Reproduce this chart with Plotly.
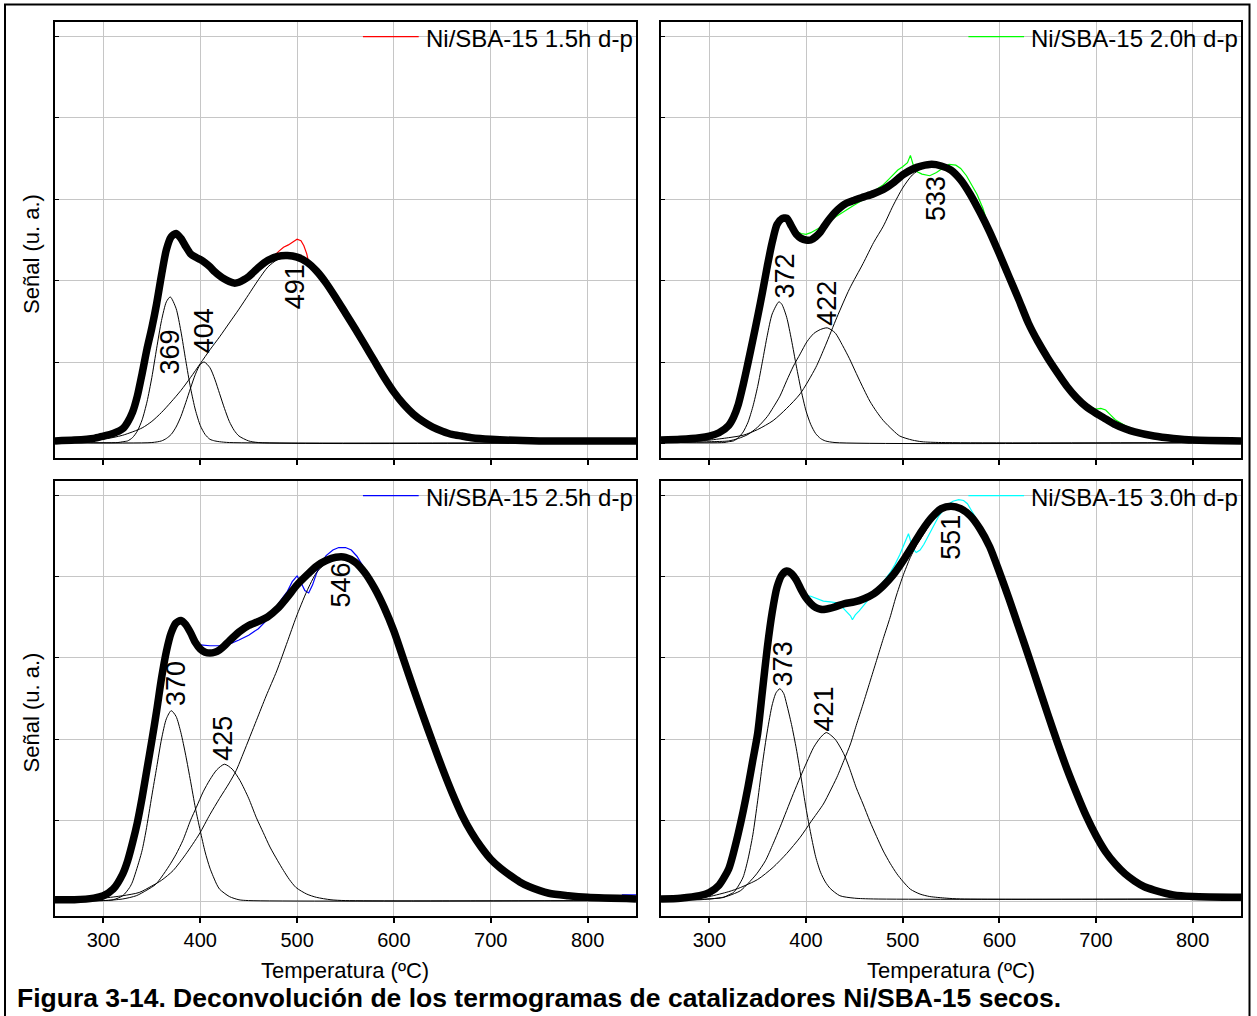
import plotly.graph_objects as go

# ---------------------------------------------------------------------------
# TPR deconvolution of dried Ni/SBA-15 catalysts: temperature (ºC) vs signal
# Each series is a list of (temperature, signal) pairs.
# ---------------------------------------------------------------------------

SAMPLE_NAMES = ["Ni/SBA-15 1.5h d-p", "Ni/SBA-15 2.0h d-p",
                "Ni/SBA-15 2.5h d-p", "Ni/SBA-15 3.0h d-p"]

# peak maxima of the fitted components (ºC)
PEAKS_15 = [369, 404, 491]
PEAKS_20 = [372, 422, 533]
PEAKS_25 = [370, 425, 546]
PEAKS_30 = [373, 421, 551]

X_TICKS = [300, 400, 500, 600, 700, 800]

# ---------------- 1.5 h ----------------
DATA_15 = [(250, 0.03), (270, 0.04), (290, 0.06), (300, 0.09), (310, 0.12), (320, 0.18),
           (325, 0.26), (330, 0.38), (335, 0.58), (340, 0.86), (345, 1.16), (350, 1.42),
           (355, 1.72), (360, 2.07), (365, 2.38), (370, 2.54), (375, 2.58), (380, 2.52),
           (385, 2.42), (390, 2.33), (395, 2.29), (400, 2.26), (405, 2.22), (410, 2.17),
           (415, 2.11), (420, 2.06), (425, 2.02), (430, 1.99), (435, 1.97), (440, 1.98),
           (445, 2.01), (450, 2.05), (460, 2.16), (470, 2.25), (476, 2.30), (481, 2.36),
           (486, 2.41), (491, 2.44), (496, 2.48), (500, 2.51), (504, 2.49), (507, 2.43),
           (510, 2.33), (512, 2.22), (516, 2.16), (520, 2.09), (525, 2.01), (530, 1.93),
           (535, 1.82), (540, 1.72), (545, 1.63), (550, 1.55), (555, 1.47), (560, 1.38),
           (570, 1.19), (580, 0.99), (590, 0.80), (600, 0.63), (610, 0.48), (620, 0.36),
           (630, 0.27), (640, 0.20), (650, 0.15), (660, 0.11), (670, 0.09), (680, 0.07),
           (700, 0.05), (750, 0.03), (800, 0.03), (850, 0.03)]
FIT_15 = [(250, 0.03), (270, 0.04), (290, 0.06), (300, 0.09), (310, 0.12), (320, 0.18),
          (325, 0.26), (330, 0.38), (335, 0.58), (340, 0.86), (345, 1.16), (350, 1.42),
          (355, 1.72), (360, 2.07), (365, 2.38), (370, 2.54), (375, 2.58), (380, 2.52),
          (385, 2.42), (390, 2.33), (395, 2.29), (400, 2.26), (405, 2.22), (410, 2.17),
          (415, 2.11), (420, 2.06), (425, 2.02), (430, 1.99), (435, 1.97), (440, 1.98),
          (445, 2.01), (450, 2.05), (460, 2.16), (470, 2.25), (480, 2.30), (490, 2.31),
          (500, 2.29), (510, 2.23), (520, 2.12), (530, 1.97), (540, 1.79), (550, 1.60),
          (560, 1.41), (570, 1.21), (580, 1.01), (590, 0.81), (600, 0.63), (610, 0.48),
          (620, 0.36), (630, 0.27), (640, 0.20), (650, 0.15), (660, 0.11), (670, 0.09),
          (680, 0.07), (700, 0.05), (750, 0.03), (800, 0.03), (850, 0.03)]
PEAK_15_A = [(250, 0.01), (315, 0.01), (320, 0.02), (325, 0.03), (330, 0.07), (335, 0.15),
             (340, 0.29), (345, 0.51), (350, 0.81), (355, 1.17), (360, 1.51), (365, 1.74),
             (369, 1.80), (375, 1.66), (380, 1.38), (385, 1.02), (390, 0.68), (395, 0.41),
             (400, 0.22), (405, 0.11), (410, 0.05), (415, 0.03), (420, 0.02), (430, 0.01),
             (850, 0.01)]
PEAK_15_B = [(250, 0.01), (350, 0.01), (360, 0.03), (365, 0.06), (370, 0.11), (375, 0.20),
             (380, 0.33), (385, 0.50), (390, 0.68), (395, 0.85), (400, 0.97), (404, 1.00),
             (410, 0.93), (415, 0.79), (420, 0.61), (425, 0.43), (430, 0.27), (435, 0.16),
             (440, 0.09), (450, 0.03), (460, 0.01), (850, 0.01)]
PEAK_15_C = [(250, 0.01), (280, 0.03), (300, 0.05), (320, 0.10), (340, 0.19), (350, 0.27),
             (360, 0.38), (370, 0.51), (380, 0.65), (390, 0.81), (400, 0.98), (410, 1.15),
             (420, 1.31), (430, 1.48), (440, 1.65), (450, 1.83), (460, 2.01), (470, 2.17),
             (480, 2.26), (491, 2.29), (500, 2.27), (510, 2.21), (520, 2.10), (530, 1.95),
             (540, 1.77), (550, 1.58), (560, 1.39), (570, 1.19), (580, 0.99), (590, 0.79),
             (600, 0.61), (610, 0.46), (620, 0.34), (630, 0.25), (640, 0.18), (650, 0.13),
             (660, 0.09), (670, 0.07), (680, 0.05), (700, 0.03), (750, 0.02), (850, 0.01)]

# ---------------- 2.0 h ----------------
DATA_20 = [(250, 0.04), (270, 0.05), (290, 0.07), (300, 0.09), (310, 0.13), (320, 0.22),
           (325, 0.32), (330, 0.48), (335, 0.72), (340, 0.99), (345, 1.27), (350, 1.56),
           (355, 1.86), (360, 2.18), (365, 2.47), (370, 2.69), (375, 2.76), (380, 2.74),
           (385, 2.67), (390, 2.61), (395, 2.58), (400, 2.57), (405, 2.59), (410, 2.62),
           (415, 2.65), (420, 2.69), (430, 2.78), (440, 2.86), (450, 2.93), (460, 3.00),
           (465, 3.04), (470, 3.09), (475, 3.14), (480, 3.18), (485, 3.24), (490, 3.30),
           (495, 3.36), (500, 3.40), (505, 3.45), (508, 3.54), (511, 3.42), (515, 3.34),
           (520, 3.31), (528, 3.29), (535, 3.33), (541, 3.38), (548, 3.43), (555, 3.42),
           (560, 3.38), (566, 3.29), (572, 3.16), (577, 3.06), (583, 2.89), (590, 2.62),
           (600, 2.33), (610, 2.04), (620, 1.72), (630, 1.43), (640, 1.20), (650, 1.02),
           (660, 0.85), (670, 0.70), (680, 0.57), (690, 0.47), (700, 0.42), (705, 0.43),
           (710, 0.41), (715, 0.35), (720, 0.29), (730, 0.22), (740, 0.17), (750, 0.13),
           (760, 0.10), (780, 0.06), (800, 0.04), (850, 0.03)]
FIT_20 = [(250, 0.04), (270, 0.05), (290, 0.07), (300, 0.09), (310, 0.13), (320, 0.22),
          (325, 0.32), (330, 0.48), (335, 0.72), (340, 0.99), (345, 1.27), (350, 1.56),
          (355, 1.86), (360, 2.18), (365, 2.47), (370, 2.69), (375, 2.76), (380, 2.77),
          (385, 2.67), (390, 2.57), (395, 2.52), (400, 2.50), (405, 2.50), (410, 2.54),
          (415, 2.60), (420, 2.69), (425, 2.77), (430, 2.84), (440, 2.94), (450, 2.99),
          (460, 3.03), (470, 3.07), (480, 3.12), (490, 3.20), (500, 3.30), (510, 3.37),
          (520, 3.41), (530, 3.43), (540, 3.41), (550, 3.36), (560, 3.24), (570, 3.06),
          (580, 2.84), (590, 2.60), (600, 2.33), (610, 2.05), (620, 1.77), (630, 1.48),
          (640, 1.25), (650, 1.05), (660, 0.87), (670, 0.70), (680, 0.56), (690, 0.45),
          (700, 0.37), (710, 0.30), (720, 0.23), (730, 0.18), (740, 0.14), (760, 0.09),
          (780, 0.06), (800, 0.04), (850, 0.03)]
PEAK_20_A = [(250, 0.01), (315, 0.01), (320, 0.02), (325, 0.03), (330, 0.07), (335, 0.14),
             (340, 0.26), (345, 0.45), (350, 0.70), (355, 1.01), (360, 1.33), (365, 1.59),
             (372, 1.74), (375, 1.71), (380, 1.55), (385, 1.27), (390, 0.95), (395, 0.65),
             (400, 0.40), (405, 0.23), (410, 0.12), (415, 0.06), (420, 0.03), (430, 0.01),
             (850, 0.01)]
PEAK_20_B = [(250, 0.01), (300, 0.02), (320, 0.03), (330, 0.06), (340, 0.11), (350, 0.20),
             (360, 0.33), (366, 0.44), (373, 0.58), (380, 0.77), (387, 0.95), (394, 1.10),
             (401, 1.25), (408, 1.35), (415, 1.40), (422, 1.42), (430, 1.36), (438, 1.20),
             (445, 1.04), (452, 0.86), (460, 0.66), (466, 0.52), (473, 0.39), (480, 0.28),
             (490, 0.16), (497, 0.09), (510, 0.04), (520, 0.02), (540, 0.01), (850, 0.01)]
PEAK_20_C = [(250, 0.01), (280, 0.02), (300, 0.04), (320, 0.07), (335, 0.10), (350, 0.17),
             (366, 0.28), (380, 0.43), (394, 0.61), (410, 0.93), (420, 1.20), (432, 1.55),
             (445, 1.90), (459, 2.21), (470, 2.47), (480, 2.67), (490, 2.92), (500, 3.14),
             (510, 3.30), (520, 3.38), (533, 3.41), (540, 3.39), (550, 3.34), (560, 3.22),
             (570, 3.04), (580, 2.82), (590, 2.58), (600, 2.31), (610, 2.03), (620, 1.75),
             (630, 1.46), (640, 1.23), (650, 1.03), (660, 0.85), (670, 0.68), (680, 0.54),
             (690, 0.43), (700, 0.35), (710, 0.28), (720, 0.21), (730, 0.16), (740, 0.12),
             (760, 0.07), (780, 0.04), (800, 0.03), (850, 0.02)]

# ---------------- 2.5 h ----------------
DATA_25 = [(250, 0.02), (270, 0.02), (290, 0.04), (300, 0.07), (310, 0.15), (320, 0.34),
           (325, 0.50), (330, 0.72), (335, 0.97), (340, 1.28), (345, 1.63), (350, 1.98),
           (355, 2.35), (360, 2.75), (365, 3.08), (370, 3.31), (375, 3.43), (380, 3.45),
           (385, 3.38), (390, 3.28), (395, 3.20), (400, 3.16), (410, 3.15), (420, 3.15),
           (430, 3.17), (440, 3.22), (450, 3.28), (460, 3.36), (470, 3.48), (475, 3.57),
           (480, 3.66), (485, 3.74), (490, 3.82), (495, 3.94), (500, 4.01), (504, 3.93),
           (508, 3.83), (512, 3.80), (516, 3.90), (520, 4.04), (525, 4.17), (530, 4.26),
           (537, 4.33), (543, 4.36), (550, 4.36), (556, 4.33), (562, 4.25), (567, 4.15),
           (572, 4.02), (580, 3.85), (590, 3.62), (600, 3.33), (610, 2.98), (620, 2.63),
           (630, 2.29), (640, 1.93), (645, 1.78), (650, 1.63), (660, 1.34), (670, 1.07),
           (680, 0.85), (690, 0.67), (700, 0.52), (710, 0.41), (715, 0.38), (720, 0.34),
           (730, 0.24), (740, 0.18), (760, 0.10), (780, 0.07), (800, 0.05), (820, 0.04),
           (833, 0.04), (836, 0.08), (850, 0.08)]
FIT_25 = [(250, 0.02), (270, 0.02), (290, 0.04), (300, 0.07), (310, 0.15), (320, 0.34),
          (325, 0.50), (330, 0.72), (335, 0.97), (340, 1.28), (345, 1.63), (350, 1.98),
          (355, 2.35), (360, 2.75), (365, 3.08), (370, 3.31), (375, 3.43), (380, 3.46),
          (385, 3.41), (390, 3.31), (395, 3.19), (400, 3.11), (405, 3.07), (410, 3.06),
          (415, 3.07), (420, 3.10), (425, 3.15), (430, 3.21), (440, 3.32), (450, 3.40),
          (460, 3.45), (470, 3.51), (480, 3.61), (490, 3.75), (500, 3.90), (510, 4.02),
          (520, 4.13), (530, 4.20), (540, 4.24), (550, 4.24), (560, 4.18), (570, 4.05),
          (580, 3.86), (590, 3.62), (600, 3.33), (610, 2.98), (620, 2.63), (630, 2.29),
          (640, 1.96), (650, 1.64), (660, 1.34), (670, 1.07), (680, 0.85), (690, 0.67),
          (700, 0.52), (710, 0.41), (720, 0.32), (730, 0.24), (740, 0.18), (760, 0.10),
          (780, 0.07), (800, 0.05), (850, 0.03)]
PEAK_25_A = [(250, 0.01), (300, 0.01), (310, 0.02), (320, 0.07), (327, 0.17), (330, 0.24),
             (337, 0.50), (340, 0.63), (344, 0.87), (350, 1.30), (355, 1.65), (360, 2.00),
             (365, 2.25), (370, 2.35), (375, 2.28), (380, 2.08), (385, 1.80), (390, 1.48),
             (395, 1.15), (400, 0.87), (405, 0.61), (410, 0.41), (417, 0.21), (420, 0.15),
             (430, 0.06), (440, 0.02), (450, 0.01), (850, 0.01)]
PEAK_25_B = [(250, 0.01), (300, 0.01), (320, 0.03), (334, 0.07), (345, 0.14), (354, 0.21),
             (360, 0.30), (368, 0.44), (375, 0.58), (382, 0.75), (390, 1.00), (396, 1.16),
             (403, 1.35), (410, 1.50), (417, 1.62), (425, 1.69), (433, 1.63), (441, 1.49),
             (450, 1.27), (458, 1.03), (465, 0.85), (472, 0.67), (480, 0.50), (486, 0.38),
             (492, 0.27), (499, 0.17), (510, 0.09), (520, 0.05), (535, 0.02), (550, 0.01),
             (850, 0.01)]
PEAK_25_C = [(250, 0.01), (280, 0.02), (300, 0.04), (320, 0.07), (337, 0.11), (350, 0.19),
             (360, 0.26), (372, 0.38), (385, 0.58), (399, 0.83), (410, 1.07), (420, 1.27),
             (430, 1.46), (437, 1.61), (445, 1.84), (458, 2.23), (468, 2.53), (479, 2.84),
             (490, 3.20), (499, 3.50), (510, 3.82), (520, 4.05), (530, 4.17), (538, 4.21),
             (546, 4.23), (550, 4.22), (560, 4.16), (570, 4.03), (580, 3.84), (590, 3.60),
             (600, 3.31), (610, 2.96), (620, 2.61), (630, 2.27), (640, 1.94), (650, 1.62),
             (660, 1.32), (670, 1.05), (680, 0.83), (690, 0.65), (700, 0.50), (710, 0.39),
             (720, 0.30), (730, 0.22), (740, 0.16), (760, 0.09), (780, 0.05), (800, 0.03),
             (850, 0.02)]

# ---------------- 3.0 h ----------------
DATA_30 = [(250, 0.03), (270, 0.04), (290, 0.07), (300, 0.11), (310, 0.20), (320, 0.40),
           (325, 0.60), (330, 0.84), (335, 1.11), (340, 1.41), (345, 1.74), (350, 2.07),
           (355, 2.60), (360, 3.13), (365, 3.56), (370, 3.95), (375, 4.07), (380, 4.06),
           (385, 4.01), (390, 3.92), (395, 3.81), (400, 3.77), (405, 3.76), (410, 3.74),
           (418, 3.70), (425, 3.69), (432, 3.68), (438, 3.62), (442, 3.57), (446, 3.52),
           (448, 3.47), (451, 3.53), (455, 3.58), (460, 3.65), (465, 3.72), (470, 3.79),
           (476, 3.88), (482, 3.97), (487, 4.05), (492, 4.15), (497, 4.27), (501, 4.38),
           (504, 4.46), (506, 4.53), (508, 4.45), (511, 4.34), (514, 4.30), (518, 4.33),
           (522, 4.40), (527, 4.52), (532, 4.63), (537, 4.74), (542, 4.82), (547, 4.89),
           (552, 4.93), (558, 4.95), (563, 4.94), (567, 4.90), (571, 4.82), (575, 4.74),
           (580, 4.59), (590, 4.37), (600, 4.06), (610, 3.73), (620, 3.38), (630, 3.03),
           (640, 2.67), (650, 2.31), (660, 1.96), (670, 1.63), (680, 1.33), (690, 1.05),
           (700, 0.82), (705, 0.76), (710, 0.65), (715, 0.54), (720, 0.46), (730, 0.34),
           (740, 0.25), (750, 0.18), (760, 0.14), (780, 0.08), (800, 0.06), (850, 0.05)]
FIT_30 = [(250, 0.03), (270, 0.04), (290, 0.07), (300, 0.11), (310, 0.20), (320, 0.40),
          (325, 0.60), (330, 0.84), (335, 1.11), (340, 1.41), (345, 1.74), (350, 2.07),
          (355, 2.60), (360, 3.13), (365, 3.56), (370, 3.87), (375, 4.02), (380, 4.07),
          (385, 4.04), (390, 3.96), (395, 3.84), (400, 3.74), (405, 3.67), (410, 3.62),
          (415, 3.60), (420, 3.60), (430, 3.63), (440, 3.67), (450, 3.69), (460, 3.73),
          (470, 3.79), (480, 3.89), (490, 4.02), (500, 4.19), (510, 4.38), (520, 4.57),
          (530, 4.73), (540, 4.84), (550, 4.87), (560, 4.84), (570, 4.75), (580, 4.59),
          (590, 4.37), (600, 4.06), (610, 3.73), (620, 3.38), (630, 3.03), (640, 2.67),
          (650, 2.31), (660, 1.96), (670, 1.63), (680, 1.33), (690, 1.05), (700, 0.81),
          (710, 0.61), (720, 0.46), (730, 0.34), (740, 0.25), (750, 0.18), (760, 0.14),
          (780, 0.08), (800, 0.06), (850, 0.05)]
PEAK_30_A = [(250, 0.02), (290, 0.02), (300, 0.03), (310, 0.04), (315, 0.05), (320, 0.08),
             (325, 0.11), (330, 0.19), (335, 0.30), (340, 0.52), (345, 0.82), (350, 1.24),
             (355, 1.70), (360, 2.10), (365, 2.42), (369, 2.57), (373, 2.62), (377, 2.56),
             (380, 2.43), (385, 2.18), (390, 1.88), (395, 1.52), (400, 1.15), (405, 0.83),
             (410, 0.55), (415, 0.36), (420, 0.24), (425, 0.16), (435, 0.07), (450, 0.04),
             (470, 0.03), (850, 0.03)]
PEAK_30_B = [(250, 0.02), (300, 0.03), (314, 0.05), (320, 0.07), (332, 0.13), (340, 0.22),
             (349, 0.34), (358, 0.50), (366, 0.71), (373, 0.91), (380, 1.12), (387, 1.33),
             (394, 1.53), (401, 1.72), (408, 1.90), (415, 2.02), (421, 2.08), (430, 2.00),
             (439, 1.82), (445, 1.64), (452, 1.40), (459, 1.20), (466, 0.99), (473, 0.80),
             (480, 0.62), (487, 0.47), (494, 0.34), (500, 0.25), (508, 0.15), (518, 0.09),
             (528, 0.06), (545, 0.04), (560, 0.03), (850, 0.03)]
PEAK_30_C = [(250, 0.02), (280, 0.03), (300, 0.06), (320, 0.12), (332, 0.17), (350, 0.27),
             (366, 0.42), (380, 0.59), (394, 0.79), (405, 0.98), (418, 1.20), (425, 1.36),
             (432, 1.53), (440, 1.76), (446, 1.94), (452, 2.17), (459, 2.43), (466, 2.70),
             (473, 2.97), (480, 3.24), (487, 3.50), (493, 3.75), (500, 4.00), (508, 4.24),
             (515, 4.40), (522, 4.53), (530, 4.68), (540, 4.80), (551, 4.85), (560, 4.82),
             (570, 4.73), (580, 4.57), (590, 4.35), (600, 4.04), (610, 3.71), (620, 3.36),
             (630, 3.01), (640, 2.65), (650, 2.29), (660, 1.94), (670, 1.61), (680, 1.31),
             (690, 1.03), (700, 0.79), (710, 0.59), (720, 0.44), (730, 0.32), (740, 0.23),
             (750, 0.16), (760, 0.12), (780, 0.06), (800, 0.04), (850, 0.03)]

# ---------------------------------------------------------------------------
# Styling / layout constants
# ---------------------------------------------------------------------------
FONT = "Liberation Sans, Arial, Helvetica, sans-serif"
W, H = 1257, 1016
GRID = "#c6c6c6"
SAMPLE_COLORS = ["#ff0000", "#00ff00", "#0000ff", "#00ffff"]

# panel frames in pixels: (left, right) columns and (top, bottom) rows
COLS = [(55, 636), (661, 1241)]
ROWS = [(22, 458), (481, 916)]
X_RANGE = [250, 850]
Y_RANGE = [-0.18, 5.18]

# label placement per panel: (offset from peak in ºC, height in signal units)
LABEL_PLACE = [
    [(0, 1.12), (0, 1.38), (7, 1.92)],
    [(6, 2.06), (0, 1.72), (1, 3.01)],
    [(5, 2.68), (-1, 2.01), (-1, 3.90)],
    [(3, 2.93), (-2, 2.37), (-1, 4.48)],
]

PANELS = [
    dict(data=DATA_15, fit=FIT_15, comps=[PEAK_15_A, PEAK_15_B, PEAK_15_C], peaks=PEAKS_15),
    dict(data=DATA_20, fit=FIT_20, comps=[PEAK_20_A, PEAK_20_B, PEAK_20_C], peaks=PEAKS_20),
    dict(data=DATA_25, fit=FIT_25, comps=[PEAK_25_A, PEAK_25_B, PEAK_25_C], peaks=PEAKS_25),
    dict(data=DATA_30, fit=FIT_30, comps=[PEAK_30_A, PEAK_30_B, PEAK_30_C], peaks=PEAKS_30),
]


def px_x(p):
    return p / W


def px_y(p):
    return 1 - p / H


def split(pairs):
    return [p[0] for p in pairs], [p[1] for p in pairs]


fig = go.Figure()
layout = dict(
    width=W, height=H,
    margin=dict(l=0, r=0, t=0, b=0),
    paper_bgcolor="white", plot_bgcolor="white",
    showlegend=False,
    font=dict(family=FONT, color="black"),
)
annotations = []
shapes = []

for i, panel in enumerate(PANELS):
    col, row = i % 2, i // 2
    suffix = "" if i == 0 else str(i + 1)
    xname, yname = "x" + suffix, "y" + suffix
    (left, right), (top, bottom) = COLS[col], ROWS[row]

    layout["xaxis" + suffix] = dict(
        domain=[px_x(left), px_x(right)], range=X_RANGE, anchor=yname,
        tickmode="array", tickvals=X_TICKS, ticktext=[str(t) for t in X_TICKS],
        ticks="outside", ticklen=5, tickwidth=1.5, tickcolor="black",
        showticklabels=(row == 1), tickfont=dict(size=20, family=FONT, color="black"),
        showgrid=True, gridcolor=GRID, gridwidth=1.3,
        showline=True, linecolor="black", linewidth=1.6, mirror=True, zeroline=False,
    )
    layout["yaxis" + suffix] = dict(
        domain=[px_y(bottom), px_y(top)], range=Y_RANGE, anchor=xname,
        tick0=0, dtick=1, ticks="inside", ticklen=4, tickwidth=1.2, tickcolor="black",
        showticklabels=False,
        showgrid=True, gridcolor=GRID, gridwidth=1.3,
        showline=True, linecolor="black", linewidth=1.6, mirror=True, zeroline=False,
    )

    # measured signal
    x, y = split(panel["data"])
    fig.add_trace(go.Scatter(x=x, y=y, mode="lines", xaxis=xname, yaxis=yname,
                             line=dict(color=SAMPLE_COLORS[i], width=1.2),
                             name=SAMPLE_NAMES[i], hoverinfo="skip"))
    # individual fitted peaks
    for comp in panel["comps"]:
        x, y = split(comp)
        fig.add_trace(go.Scatter(x=x, y=y, mode="lines", xaxis=xname, yaxis=yname,
                                 line=dict(color="black", width=1, shape="spline",
                                           smoothing=0.7),
                                 hoverinfo="skip"))
    # cumulative fit
    x, y = split(panel["fit"])
    fig.add_trace(go.Scatter(x=x, y=y, mode="lines", xaxis=xname, yaxis=yname,
                             line=dict(color="black", width=7.5, shape="spline",
                                       smoothing=0.7),
                             hoverinfo="skip"))

    # peak temperature labels
    for peak, (dx, hy) in zip(panel["peaks"], LABEL_PLACE[i]):
        annotations.append(dict(
            x=peak + dx, y=hy, xref=xname, yref=yname, text=str(peak),
            textangle=-90, showarrow=False, xanchor="center", yanchor="middle",
            font=dict(size=27, family=FONT, color="black")))

    # legend entry (line key + sample name) in the top-right corner
    key_y = (5 - Y_RANGE[0]) / (Y_RANGE[1] - Y_RANGE[0])
    shapes.append(dict(type="line", xref=xname + " domain", yref=yname + " domain",
                       x0=0.530, x1=0.626, y0=key_y, y1=key_y,
                       line=dict(color=SAMPLE_COLORS[i], width=1.3)))
    annotations.append(dict(
        x=0.998, y=key_y - 0.004, xref=xname + " domain", yref=yname + " domain",
        text=SAMPLE_NAMES[i], showarrow=False, xanchor="right", yanchor="middle",
        font=dict(size=24, family=FONT, color="black")))

    # axis titles
    if row == 1:
        annotations.append(dict(
            x=0.5, y=px_y(970), xref=xname + " domain", yref="paper",
            text="Temperatura (ºC)", showarrow=False, xanchor="center", yanchor="middle",
            font=dict(size=22, family=FONT, color="black")))
    if col == 0:
        annotations.append(dict(
            x=px_x(31), y=px_y((top + bottom) / 2 + 14), xref="paper", yref="paper",
            text="Señal (u. a.)", textangle=-90, showarrow=False,
            xanchor="center", yanchor="middle",
            font=dict(size=22, family=FONT, color="black")))

# figure caption
annotations.append(dict(
    x=px_x(15), y=px_y(998), xref="paper", yref="paper",
    text="<b>Figura 3-14. Deconvolución de los termogramas de catalizadores Ni/SBA-15 secos.</b>",
    showarrow=False, xanchor="left", yanchor="middle",
    font=dict(size=26.5, family=FONT, color="black")))

# outer frame around the figure
shapes.append(dict(type="rect", xref="paper", yref="paper",
                   x0=px_x(5), x1=px_x(1249.5), y0=px_y(1040), y1=px_y(4.5),
                   line=dict(color="black", width=2), fillcolor="rgba(0,0,0,0)"))

layout["annotations"] = annotations
layout["shapes"] = shapes
fig.update_layout(**layout)
fig.write_html("out.html")
